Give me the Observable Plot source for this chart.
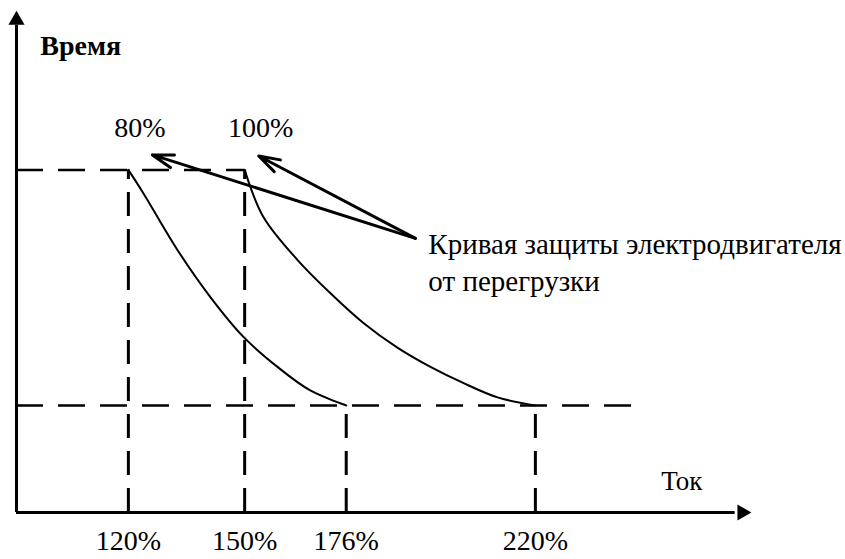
<!DOCTYPE html>
<html><head><meta charset="utf-8">
<script src="https://cdn.jsdelivr.net/npm/d3@7"></script>
<script src="https://cdn.jsdelivr.net/npm/@observablehq/plot@0.6"></script>
<style>body{margin:0;background:#fff;} #chart svg{display:block;} #chart svg text{font-family:"Liberation Serif","Times New Roman",Times,"DejaVu Serif",serif;}</style>
</head><body><div id="chart"></div>
<script>
// Tick values (current, %) and labels
const tickValues = [120, 150, 176, 220];
const tickLabels = ["120%", "150%", "176%", "220%"];
// Time levels (arbitrary units)
const timeLow = 1.0;
const timeHigh = 3.2;
const timeAxisTop = 4.67;
const currentAxisStart = 90;
const currentAxisEnd = 270;
const lowLineEnd = 245;
// Curve 80%: current (%) and time
const curve80Current = [120, 123.9, 132.7, 141.2, 149.7, 158.4, 166.8, 176];
const curve80Time    = [3.2, 2.98, 2.45, 2.01, 1.64, 1.36, 1.14, 1.0];
// Curve 100%
const curve100Current = [150, 154.8, 163.5, 171.9, 180.0, 187.9, 195.6, 203.2, 211.2, 220];
const curve100Time    = [3.2, 2.76, 2.36, 2.05, 1.77, 1.54, 1.36, 1.21, 1.075, 1.0];
// Curve labels
const curveLabels = ["80%", "100%"];
const curveLabelCurrent = [123.0, 154.1];
const curveLabelTime = [3.59, 3.59];
// Callout
const calloutText = "Кривая защиты электродвигателя\nот перегрузки";
const calloutCurrent = 195.1, calloutTime = 2.35;
const pointerTail = {current: 192.1, time: 2.56};
const pointerHeadCurrent = [126.2, 153.6];
const pointerHeadTime = [3.34, 3.33];
const yTitle = "Время", xTitle = "Ток";

// schematic (non-uniform) spacing of the current axis
const warp = d3.scaleLinear()
  .domain([currentAxisStart, 120, 150, 176, 220, currentAxisEnd])
  .range([0, 0.152, 0.310, 0.448, 0.705, 1]);

const c80 = curve80Current.map((x, i) => ({x: warp(x), y: curve80Time[i]}));
const c100 = curve100Current.map((x, i) => ({x: warp(x), y: curve100Time[i]}));
const pointers = pointerHeadCurrent.map((x, i) => ({x1: warp(pointerTail.current), y1: pointerTail.time, x2: warp(x), y2: pointerHeadTime[i]}));
const ticks = tickValues.map((v, i) => ({v: warp(v), label: tickLabels[i]}));
const vDashHigh = tickValues.slice(0, 2).map(warp);
const vDashLow = tickValues.slice(2).map(warp);
const x0 = warp(currentAxisStart);

const font = "Liberation Serif";
const chart = Plot.plot({
  width: 845, height: 559,
  margin: 0,
  x: {domain: [0, 1], range: [16, 752], axis: null},
  y: {domain: [0, timeAxisTop], range: [512, 12], axis: null},
  style: {background: "white"},
  marks: [
    // dashed guides
    Plot.ruleY([timeHigh], {x1: x0, x2: warp(150), stroke: "black", strokeWidth: 2.5, strokeDasharray: "27,15"}),
    Plot.ruleY([timeLow], {x1: x0, x2: warp(lowLineEnd), stroke: "black", strokeWidth: 2.5, strokeDasharray: "27,15"}),
    Plot.ruleX(vDashHigh, {y1: 0, y2: timeHigh, stroke: "black", strokeWidth: 3, strokeDasharray: "24,13"}),
    Plot.ruleX(vDashLow, {y1: 0, y2: timeLow, stroke: "black", strokeWidth: 3, strokeDasharray: "24,13"}),
    // curves
    Plot.line(c80, {x: "x", y: "y", curve: "catmull-rom", stroke: "black", strokeWidth: 2}),
    Plot.line(c100, {x: "x", y: "y", curve: "catmull-rom", stroke: "black", strokeWidth: 2}),
    // axes
    Plot.ruleY([0], {x1: x0, x2: warp(266), stroke: "black", strokeWidth: 3}),
    Plot.ruleX([x0], {y1: 0, y2: 4.55, stroke: "black", strokeWidth: 3}),
    Plot.dot([{x: warp(267.6), y: 0}], {x: "x", y: "y", symbol: "triangle", r: 6, fill: "black", stroke: null, rotate: 90}),
    Plot.dot([{x: x0, y: 4.6}], {x: "x", y: "y", symbol: "triangle", r: 6, fill: "black", stroke: null}),
    // pointers
    Plot.arrow(pointers, {x1: "x1", y1: "y1", x2: "x2", y2: "y2", stroke: "black", strokeWidth: 3, headLength: 11, headAngle: 35}),
    // texts
    Plot.text(ticks, {x: "v", y: -0.27, text: "label", fontSize: 28, fontFamily: font, fill: "black"}),
    Plot.text(curveLabels, {x: (d, i) => warp(curveLabelCurrent[i]), y: (d, i) => curveLabelTime[i], text: d => d, fontSize: 28, fontFamily: font, fill: "black"}),
    Plot.text([calloutText], {x: warp(calloutCurrent), y: calloutTime, text: d => d, textAnchor: "start", lineHeight: 1.28, fontSize: 29, fontFamily: font, fill: "black"}),
    Plot.text([yTitle], {x: warp(96.4), y: 4.36, text: d => d, textAnchor: "start", fontSize: 28, fontWeight: "bold", fontFamily: font, fill: "black"}),
    Plot.text([xTitle], {x: warp(253.7), y: 0.29, text: d => d, fontSize: 27, fontFamily: font, fill: "black"})
  ]
});
document.getElementById("chart").appendChild(chart);
</script>
</body></html>
